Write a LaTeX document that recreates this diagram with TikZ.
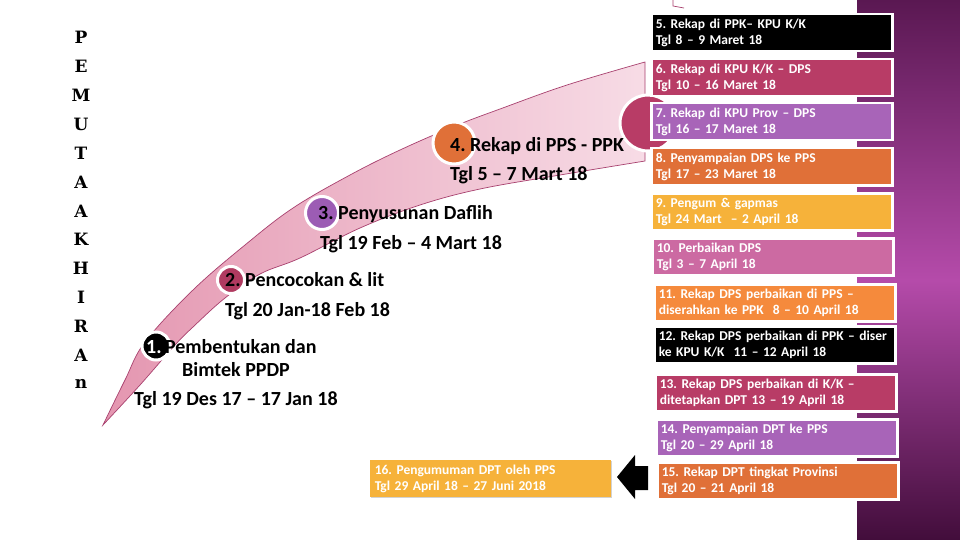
\documentclass[tikz,border=0pt]{standalone}
\usepackage{fontspec}
\setmainfont{Carlito}
\newfontfamily\letterfont{DejaVu Serif}
\usetikzlibrary{shadows}
\definecolor{pTop}{HTML}{5A1852}
\definecolor{pMid}{HTML}{B54BAA}
\definecolor{pBot}{HTML}{420D3B}
\definecolor{bandDark}{HTML}{E496B0}
\definecolor{bandLight}{HTML}{F7DCE6}
\definecolor{bandLine}{HTML}{A8406E}
\definecolor{crim}{HTML}{B83C66}
\definecolor{purp}{HTML}{A864B8}
\definecolor{orng}{HTML}{E07038}
\definecolor{yell}{HTML}{F6B23A}
\definecolor{pinkb}{HTML}{CC6AA2}
\definecolor{lorng}{HTML}{F58A3C}
\definecolor{circTwo}{HTML}{B03A60}
\definecolor{circThree}{HTML}{9C5CB4}
\begin{document}
\frenchspacing
\begin{tikzpicture}[x=1pt,y=-1pt,
  vlet/.style={font=\letterfont\bfseries\fontsize{17}{17}\selectfont, inner sep=0pt},
  lbl/.style={font=\bfseries\fontsize{20}{22}\selectfont, inner sep=0pt, anchor=base west},
  dot/.style={circle, draw=white, line width=3pt, inner sep=0pt},
  rbox/.style={rectangle, draw=white, line width=2.5pt, minimum width=239pt, minimum height=37pt,
    text width=232pt, inner xsep=4.5pt, inner ysep=0pt, align=left, text=white,
    font=\bfseries\fontsize{13.5}{15.5}\selectfont, anchor=north west,
    drop shadow={shadow xshift=1.2pt, shadow yshift=-1.2pt, opacity=0.35}}
]
\useasboundingbox (0,0) rectangle (960,540);
\fill[white] (0,0) rectangle (960,540);
\shade[top color=pTop, bottom color=pMid] (857,0) rectangle (960,280);
\shade[top color=pMid, bottom color=pBot] (857,280) rectangle (960,540);

% curved band
\path[left color=bandDark, right color=bandLight, draw=bandLine, line width=0.7pt]
  plot[smooth, tension=0.6] coordinates {(103,425) (125,380) (145,342) (193,290) (245,245) (293,208) (350,175) (400,150) (455,126) (500,109) (567,85) (645,62)}
  -- plot[smooth, tension=0.6] coordinates {(645,161) (560,175) (480,189) (420,205) (360,228) (300,258) (260,274) (225,298) (193,327) (175,345) (140,385) (103,425)}
  -- cycle;
\draw[bandLine, line width=0.7pt] (673,0) -- (673,6) -- (684,8);

% step circles
\node[dot, fill=black, minimum size=28pt] (c1) at (156,346) {};
\node[dot, fill=circTwo, minimum size=27pt] (c2) at (231,280) {};
\node[dot, fill=circThree, minimum size=33pt] (c3) at (322,213) {};
\node[dot, fill=orng, minimum size=42pt] (c4) at (454,143) {};
\node[dot, fill=crim, minimum size=56pt] (c5) at (648,123) {};

% vertical word
\foreach \L [count=\i from 0] in {P,E,M,U,T,A,A,K,H,I,R,A,n}
  \node[vlet] (v\i) at (81,{37.5+28.9*\i}) {\L};

% labels along the band
\node[lbl] (l4a) at (450,152) {4. Rekap di PPS - PPK};
\node[lbl] (l4b) at (450,180) {Tgl 5 – 7 Mart 18};
\node[lbl] (l3a) at (318,219) {3. Penyusunan Daflih};
\node[lbl] (l3b) at (320,249) {Tgl 19 Feb – 4 Mart 18};
\node[lbl] (l2a) at (225,286) {2. Pencocokan \& lit};
\node[lbl] (l2b) at (225,316) {Tgl 20 Jan-18 Feb 18};
\node[lbl] (l1a) at (146,353) {\textcolor{white}{1.}\,Pembentukan dan};
\node[lbl, anchor=base] (l1b) at (236,376) {Bimtek PPDP};
\node[lbl] (l1c) at (134,405) {Tgl 19 Des 17 – 17 Jan 18};

% right column boxes
\node[rbox, fill=black] (b5) at (650,13) {5. Rekap di PPK– KPU K/K\\Tgl 8 – 9 Maret 18};
\node[rbox, fill=crim] (b6) at (650,58) {6. Rekap di KPU K/K – DPS\\Tgl 10 – 16 Maret 18};
\node[rbox, fill=purp] (b7) at (650,102) {7. Rekap di KPU Prov – DPS\\Tgl 16 – 17 Maret 18};
\node[rbox, fill=orng] (b8) at (650,147) {8. Penyampaian DPS ke PPS\\Tgl 17 – 23 Maret 18};
\node[rbox, fill=yell] (b9) at (650,192) {9. Pengum \& gapmas\\Tgl 24 Mart~ – 2 April 18};
\node[rbox, fill=pinkb] (b10) at (651,237) {10. Perbaikan DPS\\Tgl 3 – 7 April 18};
\node[rbox, fill=lorng] (b11) at (653,283) {11. Rekap DPS perbaikan di PPS –\\diserahkan ke PPK~ 8 – 10 April 18};
\node[rbox, fill=black] (b12) at (653,325) {\mbox{12. Rekap DPS perbaikan di PPK – diser}\\ke KPU K/K~ 11 – 12 April 18};
\node[rbox, fill=crim] (b13) at (654,373) {13. Rekap DPS perbaikan di K/K –\\ditetapkan DPT 13 – 19 April 18};
\node[rbox, fill=purp] (b14) at (655,418) {14. Penyampaian DPT ke PPS\\Tgl 20 – 29 April 18};
\node[rbox, fill=orng] (b15) at (656,461) {15. Rekap DPT tingkat Provinsi\\Tgl 20 – 21 April 18};
\node[rbox, fill=yell, draw=none, drop shadow={opacity=0}] (b16) at (369,459) {16. Pengumuman DPT oleh PPS\\Tgl 29 April 18 – 27 Juni 2018};

% block arrow from 15 towards 16
\fill[black] (617,477) -- (635,455) -- (635,466) -- (648,466) -- (648,490) -- (635,490) -- (635,499) -- cycle;
\end{tikzpicture}
\end{document}
